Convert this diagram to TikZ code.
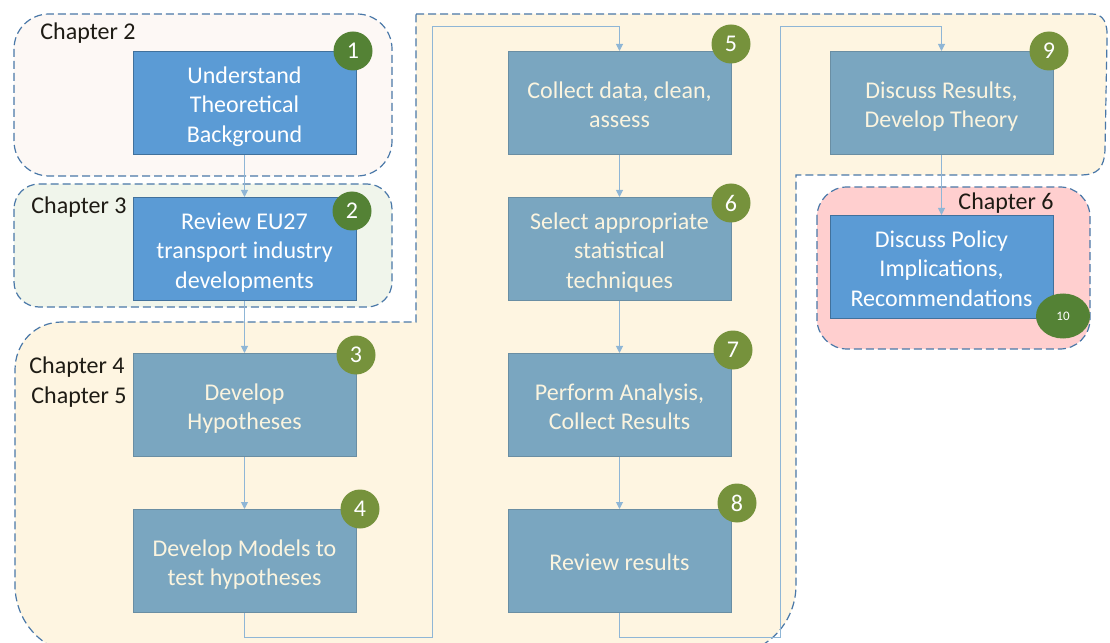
\documentclass[tikz,border=0pt]{standalone}
\usepackage{fontspec}
\setmainfont{Carlito}
\usetikzlibrary{arrows.meta,shapes.geometric}
\definecolor{regfill}{HTML}{FEF5E1}
\definecolor{dashcol}{HTML}{4A78A8}
\definecolor{chtwo}{HTML}{FDF8F5}
\definecolor{chthree}{HTML}{F0F5EB}
\definecolor{chsix}{HTML}{FFCFCF}
\definecolor{bluefill}{HTML}{5B9BD5}
\definecolor{blueline}{HTML}{41719C}
\definecolor{mutedfill}{HTML}{7AA6C0}
\definecolor{mutedline}{HTML}{6A8EA3}
\definecolor{creamtext}{HTML}{FBF4DF}
\definecolor{olive}{HTML}{76923C}
\definecolor{darkgreen}{HTML}{548235}
\definecolor{conncol}{HTML}{8FB6D6}
\definecolor{labelcol}{HTML}{1E1B14}
\newcommand{\bxs}{\rule[-4.9bp]{0pt}{29.3bp}}
\tikzset{
  region/.style={draw=dashcol, line width=1.2bp, dash pattern=on 8bp off 4bp},
  stepbox/.style={rectangle, minimum width=223bp, minimum height=103bp, inner sep=0pt,
    align=center, font=\fontsize{24bp}{29.3bp}\selectfont, line width=1bp},
  bluebox/.style={stepbox, fill=bluefill, draw=blueline, text=white},
  mutedbox/.style={stepbox, fill=mutedfill, draw=mutedline, text=creamtext},
  num/.style={circle, minimum size=39bp, inner sep=0pt, fill=olive, text=white,
    font=\fontsize{24bp}{24bp}\selectfont},
  chlabel/.style={text=labelcol, font=\fontsize{24bp}{29.5bp}\selectfont, inner sep=0pt, align=center},
  conn/.style={draw=conncol, line width=1bp, -{Triangle[width=7bp,length=7bp]}}
}
\begin{document}
\begin{tikzpicture}[x=1bp,y=-1bp]
\useasboundingbox (0,0) rectangle (1110,643);
\clip (0,0) rectangle (1110,643);
% regions
\draw[region, fill=regfill] (416,14) -- (1092,14)
  .. controls (1103,14) and (1108,22) .. (1107,40) -- (1105,150)
  .. controls (1104,168) and (1098,175) .. (1080,175) -- (796,175) -- (796,585)
  .. controls (796,624) and (765,655) .. (726,655) -- (85,655)
  .. controls (46,655) and (15,624) .. (15,585) -- (15,370)
  .. controls (15,343) and (35,322) .. (62,322) -- (416,322) -- cycle;
\draw[region, fill=chtwo, rounded corners=35bp] (14,14) rectangle (392,176);
\draw[region, fill=chthree, rounded corners=25bp] (14,184) rectangle (392,307);
\draw[region, fill=chsix, rounded corners=30bp] (817,187) rectangle (1090,349);
% chapter labels
\node[chlabel] (l2) at (88,33) {Chapter 2};
\node[chlabel] (l3) at (79,207) {Chapter 3};
\node[chlabel] (l45) at (77,382) {Chapter 4\\\hspace*{4bp}Chapter 5};
\node[chlabel] (l6) at (1006,203) {Chapter 6};
% boxes
\node[bluebox] (b1) at (244.5,103) {\bxs Understand\\Theoretical\\Background\bxs};
\node[bluebox] (b2) at (244.5,249) {\bxs Review EU27\\transport industry\\developments\bxs};
\node[mutedbox] (b3) at (244.5,405) {\bxs Develop\\Hypotheses\bxs};
\node[mutedbox] (b4) at (244.5,561) {\bxs Develop Models to\\test hypotheses\bxs};
\node[mutedbox] (b5) at (619.5,103) {\bxs Collect data, clean,\\assess\bxs};
\node[mutedbox] (b6) at (619.5,249) {\bxs Select appropriate\\statistical\\techniques\bxs};
\node[mutedbox] (b7) at (619.5,405) {\bxs Perform Analysis,\\Collect Results\bxs};
\node[mutedbox] (b8) at (619.5,561) {\bxs Review results\bxs};
\node[mutedbox] (b9) at (941.5,103) {\bxs Discuss Results,\\Develop Theory\bxs};
\node[bluebox] (b10) at (941.5,267) {\bxs Discuss Policy\\Implications,\\Recommendations\bxs};
% connectors
\coordinate (c1) at (432,637);
\coordinate (c2) at (432,27);
\coordinate (c3) at (780,637);
\coordinate (c4) at (780,27);
\draw[conn] (b1) -- (b2);
\draw[conn] (b2) -- (b3);
\draw[conn] (b3) -- (b4);
\draw[conn] (b4.south) |- (c1) -- (c2) -| (b5.north);
\draw[conn] (b5) -- (b6);
\draw[conn] (b6) -- (b7);
\draw[conn] (b7) -- (b8);
\draw[conn] (b8.south) |- (c3) -- (c4) -| (b9.north);
\draw[conn] (b9) -- (b10);
% numbers
\node[num, fill=darkgreen] (n1) at (353,51) {1};
\node[num, fill=darkgreen] (n2) at (352,211) {2};
\node[num] (n3) at (356,355) {3};
\node[num] (n4) at (360,509) {4};
\node[num] (n5) at (731,44) {5};
\node[num] (n6) at (731,203) {6};
\node[num] (n7) at (733,350) {7};
\node[num] (n8) at (737,503) {8};
\node[num] (n9) at (1049,51) {9};
\node[ellipse, minimum width=54bp, minimum height=45bp, inner sep=0pt, fill=darkgreen, text=white,
  font=\fontsize{13bp}{13bp}\selectfont] (n10) at (1063,316) {10};
\end{tikzpicture}
\end{document}
